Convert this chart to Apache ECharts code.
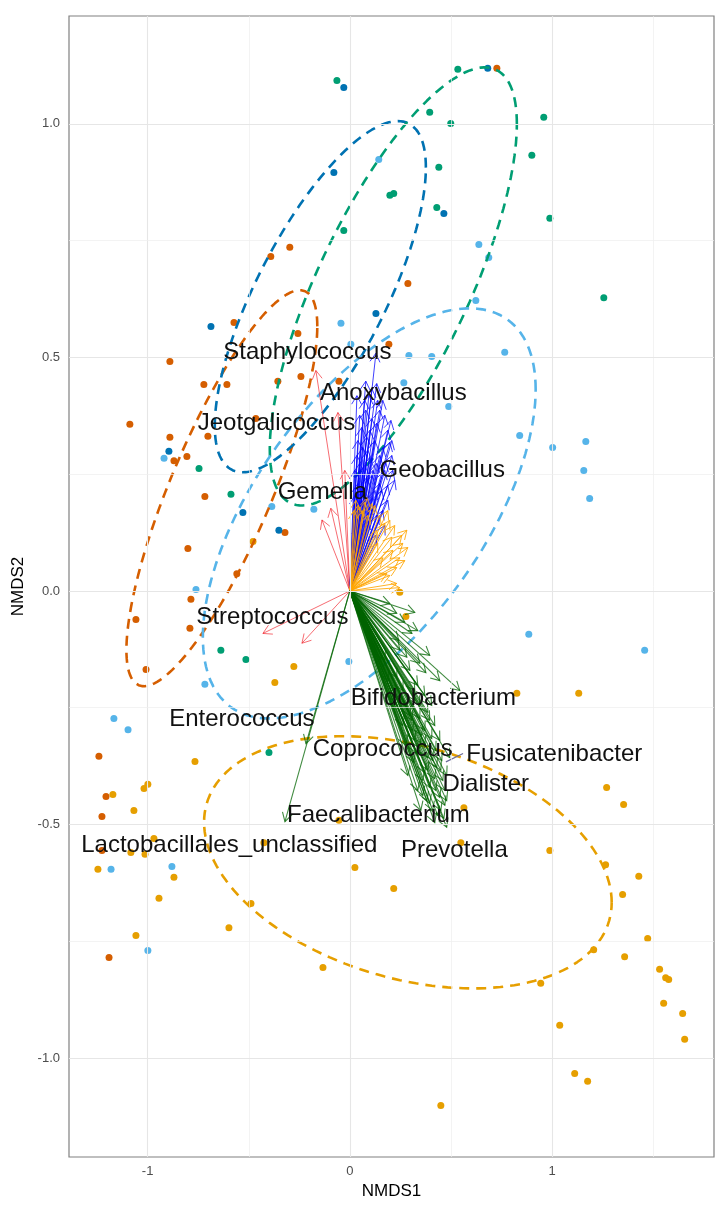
<!DOCTYPE html>
<html>
<head>
<meta charset="utf-8">
<script src="https://cdn.jsdelivr.net/npm/echarts@6/dist/echarts.min.js"></script>
<style>
  html, body { margin: 0; padding: 0; background: #fff; }
  #chart { width: 716px; height: 1208px; }
</style>
</head>
<body>
<div id="chart"></div>
<script>
// sample scores (NMDS1, NMDS2) per group
const ptsVermillion = [
  [0.727, 1.119], [-0.297, 0.736], [-0.391, 0.716], [-0.573, 0.575], [-0.257, 0.551],
  [-0.890, 0.491], [-0.722, 0.442], [-0.608, 0.442], [-0.356, 0.449], [-0.242, 0.459],
  [-0.054, 0.449], [0.193, 0.528], [0.287, 0.658], [-1.088, 0.357], [-0.890, 0.329],
  [-0.702, 0.331], [-0.465, 0.369], [-0.870, 0.279], [-0.806, 0.288], [-0.717, 0.202],
  [-0.321, 0.125], [-0.801, 0.091], [-0.559, 0.037], [-0.786, -0.018], [-1.058, -0.061],
  [-0.791, -0.080], [-1.008, -0.168], [-1.241, -0.354], [-1.206, -0.440], [-1.226, -0.483],
  [-1.226, -0.556], [-1.191, -0.785]
]
const ptsDarkBlue = [
  [-0.030, 1.078], [0.682, 1.119], [-0.079, 0.896], [0.465, 0.808], [-0.687, 0.566],
  [0.129, 0.594], [-0.895, 0.299], [-0.529, 0.168], [-0.351, 0.130]
]
const ptsGreen = [
  [-0.064, 1.093], [0.534, 1.117], [0.395, 1.025], [0.499, 1.001], [0.959, 1.014],
  [0.900, 0.933], [0.440, 0.907], [0.198, 0.847], [0.217, 0.851], [0.430, 0.821],
  [0.989, 0.798], [-0.030, 0.772], [1.256, 0.628], [-0.746, 0.262], [-0.588, 0.207],
  [-0.638, -0.127], [-0.514, -0.147], [-0.400, -0.346]
]
const ptsSkyBlue = [
  [0.143, 0.924], [0.638, 0.742], [0.687, 0.714], [0.623, 0.622], [-0.044, 0.573],
  [0.005, 0.528], [0.292, 0.504], [0.405, 0.502], [0.766, 0.511], [0.267, 0.446],
  [0.489, 0.395], [0.840, 0.333], [1.003, 0.307], [1.167, 0.320], [1.157, 0.258],
  [1.186, 0.198], [-0.919, 0.284], [-0.386, 0.181], [-0.178, 0.175], [-0.761, 0.003],
  [0.885, -0.093], [1.458, -0.127], [-0.005, -0.151], [-0.717, -0.200], [-1.167, -0.273],
  [-1.097, -0.297], [-1.181, -0.596], [-0.880, -0.590], [-0.999, -0.770]
]
const ptsGold = [
  [-0.479, 0.106], [0.247, -0.003], [0.277, -0.055], [-0.277, -0.162], [-0.371, -0.196],
  [0.826, -0.219], [1.132, -0.219], [-0.766, -0.365], [-0.999, -0.414], [-1.018, -0.423],
  [-1.172, -0.436], [-1.068, -0.470], [-0.969, -0.530], [-1.083, -0.560], [-1.013, -0.564],
  [-0.425, -0.539], [-1.246, -0.596], [-0.870, -0.613], [-0.944, -0.658], [-0.489, -0.669],
  [-0.598, -0.721], [-1.058, -0.738], [-0.133, -0.806], [-0.054, -0.491], [0.564, -0.464],
  [0.549, -0.539], [0.989, -0.556], [1.270, -0.421], [1.354, -0.457], [1.265, -0.586],
  [1.429, -0.611], [0.025, -0.592], [0.217, -0.637], [1.349, -0.650], [1.473, -0.744],
  [1.206, -0.768], [1.359, -0.783], [1.532, -0.810], [1.562, -0.828], [1.577, -0.832],
  [0.944, -0.840], [1.552, -0.883], [1.646, -0.905], [1.038, -0.930], [1.656, -0.960],
  [1.112, -1.033], [1.176, -1.050], [0.450, -1.102]
]

// group ellipses: [centerX, centerY, halfWidthX, halfHeightY, correlation]
const ellVermillion = [-0.633, 0.220, 0.472, 0.424, 0.817]
const ellDarkBlue = [-0.146, 0.630, 0.522, 0.376, 0.735]
const ellGreen = [0.215, 0.652, 0.611, 0.469, 0.741]
const ellSkyBlue = [0.096, 0.166, 0.823, 0.439, 0.604]
const ellGold = [0.287, -0.581, 1.008, 0.270, -0.318]

// genus vectors (arrow tips)
const arrRed = [
  [-0.168, 0.472], [-0.059, 0.382], [-0.094, 0.177], [-0.138, 0.152], [-0.025, 0.258],
  [-0.430, -0.091], [-0.237, -0.112]
]
const arrBlue = [
  [0.129, 0.509], [0.079, 0.449], [0.133, 0.444], [0.163, 0.408], [0.074, 0.408],
  [0.148, 0.387], [0.188, 0.344], [0.059, 0.350], [0.109, 0.369], [0.084, 0.329],
  [0.133, 0.359], [0.198, 0.318], [0.064, 0.307], [0.163, 0.307], [0.099, 0.286],
  [0.133, 0.273], [0.049, 0.273], [0.173, 0.258], [0.084, 0.243], [0.148, 0.230],
  [0.064, 0.215], [0.114, 0.200], [0.158, 0.215], [0.040, 0.230], [0.208, 0.290],
  [0.025, 0.258], [0.099, 0.183], [0.188, 0.194], [0.049, 0.172], [0.138, 0.162],
  [0.114, 0.258], [0.178, 0.275], [0.094, 0.419], [0.040, 0.322], [0.213, 0.258],
  [0.035, 0.418], [0.109, 0.433], [0.173, 0.376], [0.049, 0.376], [0.124, 0.322],
  [0.089, 0.301], [0.148, 0.290], [0.208, 0.322], [0.035, 0.290], [0.074, 0.269],
  [0.188, 0.226], [0.124, 0.215], [0.025, 0.204], [0.089, 0.151], [0.173, 0.140],
  [0.040, 0.140], [0.129, 0.119], [0.222, 0.237], [0.163, 0.172], [0.079, 0.387],
  [0.138, 0.408], [0.203, 0.365], [0.099, 0.344], [0.059, 0.194], [0.109, 0.247]
]
const arrOrange = [
  [0.074, 0.190], [0.109, 0.187], [0.188, 0.172], [0.198, 0.151], [0.282, 0.130],
  [0.287, 0.093], [0.247, 0.071], [0.232, 0.050], [0.232, 0.016], [0.173, 0.145],
  [0.138, 0.102], [0.163, 0.071], [0.049, 0.179], [0.133, 0.130], [0.208, 0.115],
  [0.262, 0.102], [0.183, 0.037], [0.084, 0.200], [0.247, 0.007], [0.030, 0.194],
  [0.040, 0.183], [0.064, 0.172], [0.089, 0.162], [0.020, 0.172], [0.124, 0.183],
  [0.148, 0.162], [0.222, 0.140], [0.257, 0.119], [0.213, 0.087], [0.272, 0.065],
  [0.198, 0.033]
]
const arrGreen = [
  [0.198, -0.027], [0.232, -0.048], [0.272, -0.067], [0.307, -0.091], [0.242, -0.106],
  [0.346, -0.155], [0.282, -0.142], [0.232, -0.185], [0.544, -0.213], [0.376, -0.175],
  [0.262, -0.213], [0.321, -0.234], [0.282, -0.249], [0.311, -0.299], [0.346, -0.273],
  [0.395, -0.277], [0.331, -0.348], [0.371, -0.331], [0.445, -0.320], [0.410, -0.363],
  [0.494, -0.357], [0.430, -0.378], [0.361, -0.406], [0.460, -0.406], [0.395, -0.421],
  [0.445, -0.442], [0.410, -0.470], [0.479, -0.506], [0.470, -0.459], [0.386, -0.384],
  [0.356, -0.309], [0.425, -0.342], [0.450, -0.384], [0.381, -0.449], [0.435, -0.481],
  [0.321, -0.320], [0.297, -0.267], [0.470, -0.427], [0.420, -0.288], [0.371, -0.224],
  [0.336, -0.202], [0.405, -0.245], [-0.321, -0.494], [-0.217, -0.327],
  [0.247, -0.127], [0.297, -0.170], [0.321, -0.213], [0.346, -0.245], [0.386, -0.260],
  [0.307, -0.277], [0.371, -0.299], [0.405, -0.316], [0.346, -0.337], [0.386, -0.357],
  [0.455, -0.363], [0.316, -0.367], [0.371, -0.389], [0.420, -0.402], [0.479, -0.395],
  [0.336, -0.427], [0.425, -0.427], [0.361, -0.438], [0.479, -0.449], [0.395, -0.455],
  [0.450, -0.470], [0.420, -0.496], [0.465, -0.487], [0.351, -0.470], [0.287, -0.395],
  [0.277, -0.331], [0.262, -0.288], [0.213, -0.234], [0.188, -0.192], [0.173, -0.149],
  [0.336, -0.085], [0.395, -0.138], [0.445, -0.192], [0.321, -0.046]
]
const fusiLink = [[0.475, -0.366], [0.560, -0.348]]

const labelNames = [
  'Staphylococcus', 'Anoxybacillus', 'Jeotgalicoccus', 'Geobacillus', 'Gemella',
  'Streptococcus', 'Bifidobacterium', 'Enterococcus', 'Coprococcus', 'Fusicatenibacter',
  'Dialister', 'Faecalibacterium', 'Lactobacillales_unclassified', 'Prevotella'
]
const labelPos = [
  [-0.210, 0.510], [0.215, 0.423], [-0.363, 0.359], [0.457, 0.258], [-0.136, 0.211],
  [-0.383, -0.057], [0.413, -0.230], [-0.534, -0.275], [0.163, -0.339], [1.011, -0.350],
  [0.672, -0.414], [0.141, -0.480], [-0.596, -0.545], [0.517, -0.556]
]

const xTicks = [-1, 0, 1]
const xMinor = [-0.5, 0.5, 1.5]
const yTicks = [-1, -0.5, 0, 0.5, 1]
const yMinor = [-0.75, -0.25, 0.25, 0.75]

const chart = echarts.init(document.getElementById('chart'), null, { renderer: 'canvas' })

function ellipsePath(e) {
  const [cx, cy, sx, sy, r] = e
  const out = []
  for (let i = 0; i <= 160; i++) {
    const t = i / 160 * Math.PI * 2
    out.push([cx + sx * Math.cos(t), cy + sy * (r * Math.cos(t) + Math.sqrt(1 - r * r) * Math.sin(t))])
  }
  return out
}

function arrowSeries(data, color, width) {
  return {
    type: 'custom',
    data: data,
    encode: { x: 0, y: 1 },
    z: 4,
    silent: true,
    renderItem: function(params, api) {
      const o = api.coord([0, 0])
      const p = api.coord([api.value(0), api.value(1)])
      const a = Math.atan2(p[1] - o[1], p[0] - o[0])
      const h = 10
      const w = Math.PI / 6
      const l = [p[0] - h * Math.cos(a - w), p[1] - h * Math.sin(a - w)]
      const r = [p[0] - h * Math.cos(a + w), p[1] - h * Math.sin(a + w)]
      const style = { stroke: color, lineWidth: width, fill: null }
      return {
        type: 'group',
        children: [
          { type: 'polyline', shape: { points: [o, p] }, style: style },
          { type: 'polyline', shape: { points: [l, p, r] }, style: style }
        ]
      }
    }
  }
}

function pointSeries(data, color) {
  return {
    type: 'scatter',
    data: data,
    symbolSize: 7,
    itemStyle: { color: color, opacity: 1 },
    z: 2,
    silent: true
  }
}

function ellipseSeries(e, color) {
  return {
    type: 'line',
    data: ellipsePath(e),
    showSymbol: false,
    smooth: false,
    z: 3,
    silent: true,
    lineStyle: { color: color, width: 2.6, type: [10, 7] }
  }
}

const gridLines = []
xTicks.forEach(v => gridLines.push({ xAxis: v, lineStyle: { color: '#e6e6e6', width: 1.1, type: 'solid' } }))
xMinor.forEach(v => gridLines.push({ xAxis: v, lineStyle: { color: '#eeeeee', width: 0.7, type: 'solid' } }))
yTicks.forEach(v => gridLines.push({ yAxis: v, lineStyle: { color: '#e6e6e6', width: 1.1, type: 'solid' } }))
yMinor.forEach(v => gridLines.push({ yAxis: v, lineStyle: { color: '#eeeeee', width: 0.7, type: 'solid' } }))

const option = {
  animation: false,
  backgroundColor: '#fff',
  textStyle: { fontFamily: 'Liberation Sans, Arial, sans-serif' },
  grid: {
    left: 69, right: 2, top: 16, bottom: 51,
    show: true, borderColor: '#808080', borderWidth: 1.2,
    outerBoundsMode: 'none'
  },
  xAxis: {
    type: 'value',
    min: -1.389, max: 1.801,
    name: 'NMDS1', nameLocation: 'middle', nameGap: 25,
    nameTextStyle: { color: '#000', fontSize: 17 },
    axisLine: { show: false },
    axisTick: { show: true, length: 5, customValues: xTicks, lineStyle: { color: '#333' } },
    axisLabel: { customValues: xTicks, color: '#4d4d4d', fontSize: 13, margin: 8, formatter: v => String(v) },
    splitLine: { show: false }
  },
  yAxis: {
    type: 'value',
    min: -1.212, max: 1.231,
    name: 'NMDS2', nameLocation: 'middle', nameGap: 42, nameRotate: 90,
    nameTextStyle: { color: '#000', fontSize: 17 },
    axisLine: { show: false },
    axisTick: { show: true, length: 5, customValues: yTicks, lineStyle: { color: '#333' } },
    axisLabel: { customValues: yTicks, color: '#4d4d4d', fontSize: 13, margin: 9, formatter: v => v.toFixed(1) },
    splitLine: { show: false }
  },
  series: [
    {
      type: 'scatter', data: [], silent: true, z: 0,
      markLine: {
        silent: true, symbol: ['none', 'none'], label: { show: false }, animation: false,
        emphasis: { disabled: true }, data: gridLines
      }
    },
    pointSeries(ptsVermillion, '#D55E00'),
    pointSeries(ptsDarkBlue, '#0072B2'),
    pointSeries(ptsGreen, '#009E73'),
    pointSeries(ptsSkyBlue, '#56B4E9'),
    pointSeries(ptsGold, '#E69F00'),
    ellipseSeries(ellVermillion, '#D55E00'),
    ellipseSeries(ellDarkBlue, '#0072B2'),
    ellipseSeries(ellGreen, '#009E73'),
    ellipseSeries(ellSkyBlue, '#56B4E9'),
    ellipseSeries(ellGold, '#E69F00'),
    arrowSeries(arrRed, 'rgba(240,20,30,0.7)', 0.9),
    arrowSeries(arrBlue, 'rgba(0,0,255,0.75)', 1),
    arrowSeries(arrOrange, 'rgba(255,165,0,0.85)', 1),
    arrowSeries(arrGreen, 'rgba(0,100,0,0.75)', 1.1),
    {
      type: 'line', data: fusiLink, showSymbol: false, silent: true, z: 4,
      lineStyle: { color: '#6b6b9a', width: 1.2 }
    },
    {
      type: 'custom',
      data: labelPos,
      encode: { x: 0, y: 1 },
      z: 6,
      silent: true,
      renderItem: function(params, api) {
        const p = api.coord([api.value(0), api.value(1)])
        return {
          type: 'text',
          x: p[0], y: p[1],
          style: {
            text: labelNames[params.dataIndex],
            fill: '#111',
            font: '24px "Liberation Sans", Arial, sans-serif',
            align: 'center',
            verticalAlign: 'middle'
          }
        }
      }
    }
  ]
}

chart.setOption(option)
</script>
</body>
</html>
